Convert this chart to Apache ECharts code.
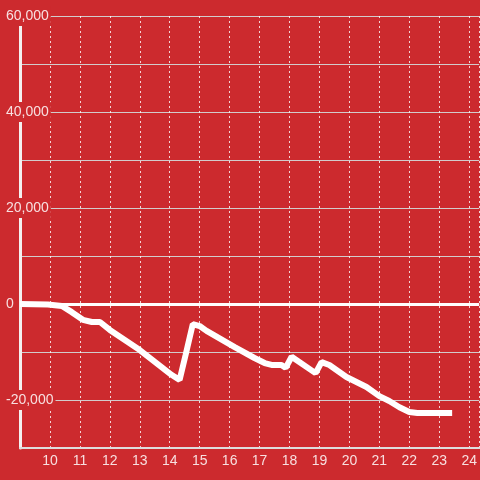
<!DOCTYPE html>
<html>
<head>
<meta charset="utf-8">
<script src="https://cdn.jsdelivr.net/npm/echarts@6/dist/echarts.min.js"></script>
<style>html,body{margin:0;padding:0;background:#cc2a2e;}#c{width:480px;height:480px;}</style>
</head>
<body>
<div id="c"></div>
<script>
// x positions (hours) and values
var xValues = [9.0, 9.93, 10.4, 10.73, 11.1, 11.4, 11.67, 12.0, 13.0, 14.07, 14.33, 14.53, 14.77, 15.0, 15.23, 16.17, 16.83, 17.17, 17.4, 17.73, 17.87, 18.07, 18.87, 19.07, 19.33, 19.9, 20.57, 21.0, 21.33, 21.67, 22.0, 22.27, 23.43];
var yValues = [0, -100, -400, -1700, -3300, -3750, -3750, -5400, -9600, -14800, -15800, -10600, -4200, -4600, -5600, -9000, -11250, -12300, -12700, -12700, -13300, -11000, -14400, -12100, -12700, -15200, -17300, -19200, -20200, -21500, -22500, -22700, -22700];
var yTickLabels = [60000, 40000, 20000, 0, -20000];

var data = xValues.map(function (x, i) { return [x, yValues[i]]; });
var bg = '#cc2a2e';
var txt = 'rgba(255,255,255,0.85)';

var chart = echarts.init(document.getElementById('c'));
chart.setOption({
  animation: false,
  backgroundColor: bg,
  grid: { left: 20, right: 0, top: 16, bottom: 32, containLabel: false },
  xAxis: {
    type: 'value',
    min: 9,
    max: 24.333,
    interval: 1,
    axisLine: { show: true, onZero: false, lineStyle: { color: '#dddddd', width: 2 } },
    axisTick: { show: false },
    axisLabel: {
      show: true, color: txt, fontSize: 14, fontFamily: 'Liberation Sans, Arial, sans-serif', margin: 6,
      showMinLabel: false, showMaxLabel: false,
      formatter: function (v) { return (Math.abs(v - Math.round(v)) < 1e-6 && v > 9) ? String(Math.round(v)) : ''; }
    },
    splitLine: { show: true, lineStyle: { color: 'rgba(255,255,255,0.8)', width: 1, type: [2, 3] } }
  },
  yAxis: {
    type: 'value',
    min: -30000,
    max: 60000,
    interval: 10000,
    axisLine: { show: true, lineStyle: { color: '#f4f0f0', width: 3 } },
    axisTick: { show: false },
    axisLabel: {
      show: true, align: 'left', margin: 14, color: txt, fontSize: 14, fontFamily: 'Liberation Sans, Arial, sans-serif',
      formatter: function (v) {
        if (yTickLabels.indexOf(v) < 0) return '';
        return '{b|' + v.toLocaleString('en-US') + '}';
      },
      rich: { b: { backgroundColor: bg, padding: [3, 2, 3, 0], color: txt, fontSize: 14, fontFamily: 'Liberation Sans, Arial, sans-serif' } }
    },
    splitLine: { show: true, lineStyle: { color: '#d2cccc', width: 1 } }
  },
  series: [{
    type: 'line',
    data: data,
    showSymbol: false,
    symbol: 'none',
    clip: false,
    lineStyle: { color: '#ffffff', width: 6 },
    markLine: {
      silent: true,
      symbol: 'none',
      label: { show: false },
      lineStyle: { color: '#ffffff', width: 3, type: 'solid' },
      data: [{ yAxis: 0 }]
    }
  }]
});
</script>
</body>
</html>
